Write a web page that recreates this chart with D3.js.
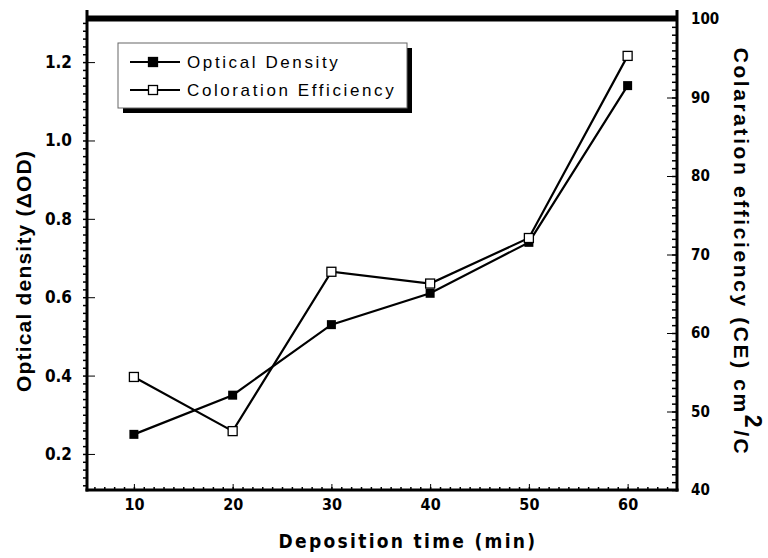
<!DOCTYPE html>
<html>
<head>
<meta charset="utf-8">
<script src="https://cdn.jsdelivr.net/npm/d3@7"></script>
<style>
  body { margin: 0; background: #fff; }
  .tick text { font-family: "DejaVu Sans Condensed", "DejaVu Sans", sans-serif; font-weight: bold; }
</style>
</head>
<body>
<div id="chart"></div>
<script>
// data
var depTime = [10, 20, 30, 40, 50, 60];
var opticalDensity = [0.25, 0.35, 0.53, 0.61, 0.74, 1.14];
var colorEff = [54.4, 47.5, 67.8, 66.3, 72.1, 95.3];
var xTicks = [10, 20, 30, 40, 50, 60];
var leftTicks = [0.2, 0.4, 0.6, 0.8, 1.0, 1.2];
var rightTicks = [40, 50, 60, 70, 80, 90, 100];
var legendNames = ["Optical Density", "Coloration Efficiency"];

var svgWidth = 768;
var svgHeight = 558;
var margin = { top: 19, right: 91, bottom: 68, left: 87 };
var width = svgWidth - margin.left - margin.right;
var height = svgHeight - margin.top - margin.bottom;

var svg = d3.select("#chart")
  .append("svg")
  .attr("width", svgWidth)
  .attr("height", svgHeight);

var chartGroup = svg.append("g")
  .attr("transform", `translate(${margin.left}, ${margin.top})`);

// scales
var xScale = d3.scaleLinear().domain([5.25, 65]).range([0, width]);
var yLeft = d3.scaleLinear().domain([0.108, 1.31]).range([height, 0]);
var yRight = d3.scaleLinear().domain([40, 100]).range([height, 0]);

// minor ticks
var xMinor = d3.range(6, 65, 1);
var leftMinor = d3.range(0.12, 1.31, 0.02);
var rightMinor = d3.range(40, 101, 1);

function noLabel(g) { g.selectAll("text").remove(); g.select(".domain").remove(); }

chartGroup.append("g")
  .attr("transform", `translate(0, ${height})`)
  .call(d3.axisBottom(xScale).tickValues(xMinor).tickSize(-3).tickFormat(""))
  .call(noLabel)
  .selectAll("line").attr("stroke-width", 1.5);

chartGroup.append("g")
  .call(d3.axisLeft(yLeft).tickValues(leftMinor).tickSize(4).tickFormat(""))
  .call(noLabel)
  .selectAll("line").attr("stroke-width", 1.5);

chartGroup.append("g")
  .attr("transform", `translate(${width}, 0)`)
  .call(d3.axisRight(yRight).tickValues(rightMinor).tickSize(-5).tickFormat(""))
  .call(noLabel)
  .selectAll("line").attr("stroke-width", 1.5);

// major axes with labels
var xAxis = chartGroup.append("g")
  .attr("transform", `translate(0, ${height})`)
  .call(d3.axisBottom(xScale).tickValues(xTicks).tickSize(-6).tickPadding(14));
xAxis.selectAll("text").attr("font-size", 16).attr("dy", "0.35em").attr("fill", "#000");

var leftAxis = chartGroup.append("g")
  .call(d3.axisLeft(yLeft).tickValues(leftTicks).tickSize(-8).tickPadding(15)
    .tickFormat(d3.format(".1f")));
leftAxis.selectAll("text").attr("font-size", 17).attr("fill", "#000");

var rightAxis = chartGroup.append("g")
  .attr("transform", `translate(${width}, 0)`)
  .call(d3.axisRight(yRight).tickValues(rightTicks).tickSize(-10).tickPadding(14));
rightAxis.selectAll("text").attr("font-size", 15).attr("fill", "#000");

chartGroup.selectAll(".domain").remove();

// frame lines
chartGroup.append("line").attr("x1", 0).attr("x2", 0).attr("y1", -9).attr("y2", height + 1.5)
  .attr("stroke", "#000").attr("stroke-width", 3);
chartGroup.append("line").attr("x1", width).attr("x2", width).attr("y1", -9).attr("y2", height + 1.5)
  .attr("stroke", "#000").attr("stroke-width", 3);
chartGroup.append("line").attr("x1", -1.5).attr("x2", width + 1.5).attr("y1", height).attr("y2", height)
  .attr("stroke", "#000").attr("stroke-width", 3);
chartGroup.append("line").attr("x1", 0).attr("x2", width).attr("y1", -0.5).attr("y2", -0.5)
  .attr("stroke", "#000").attr("stroke-width", 6);

// lines
var odLine = d3.line().x((d, i) => xScale(depTime[i])).y(d => yLeft(d));
var ceLine = d3.line().x((d, i) => xScale(depTime[i])).y(d => yRight(d));

chartGroup.append("path").datum(opticalDensity)
  .attr("d", odLine).attr("fill", "none").attr("stroke", "#000").attr("stroke-width", 2.2);
chartGroup.append("path").datum(colorEff)
  .attr("d", ceLine).attr("fill", "none").attr("stroke", "#000").attr("stroke-width", 2.2);

var ms = 9;
chartGroup.selectAll(".od").data(opticalDensity).enter().append("rect")
  .attr("x", (d, i) => xScale(depTime[i]) - ms / 2)
  .attr("y", d => yLeft(d) - ms / 2)
  .attr("width", ms).attr("height", ms).attr("fill", "#000");
chartGroup.selectAll(".ce").data(colorEff).enter().append("rect")
  .attr("x", (d, i) => xScale(depTime[i]) - ms / 2)
  .attr("y", d => yRight(d) - ms / 2)
  .attr("width", ms).attr("height", ms).attr("fill", "#fff")
  .attr("stroke", "#000").attr("stroke-width", 1.3);

// axis titles
svg.append("text")
  .attr("transform", "translate(31, 271) rotate(-90)")
  .attr("text-anchor", "middle")
  .attr("font-family", "Liberation Sans, Arial, sans-serif")
  .attr("font-weight", "bold").attr("font-size", 21)
  .attr("letter-spacing", 1.2)
  .text("Optical density (ΔOD)");

var rt = svg.append("text")
  .attr("transform", "translate(734, 252) rotate(90)")
  .attr("text-anchor", "middle")
  .attr("font-family", "Liberation Sans, Arial, sans-serif")
  .attr("font-weight", "bold").attr("font-size", 21)
  .attr("letter-spacing", 2.6);
rt.append("tspan").text("Colaration efficiency (CE) cm");
rt.append("tspan").attr("dy", -11).attr("font-size", 23).text("2");
rt.append("tspan").attr("dy", 11).text("/C");

svg.append("text")
  .attr("x", 408).attr("y", 548)
  .attr("text-anchor", "middle")
  .attr("font-family", "DejaVu Sans Condensed, sans-serif")
  .attr("font-weight", "bold").attr("font-size", 19)
  .attr("letter-spacing", 2.3)
  .text("Deposition time (min)");

// legend
var legend = svg.append("g");
legend.append("rect").attr("x", 123).attr("y", 48).attr("width", 289).attr("height", 65).attr("fill", "#000");
legend.append("rect").attr("x", 118).attr("y", 43).attr("width", 289).attr("height", 65)
  .attr("fill", "#fff").attr("stroke", "#666").attr("stroke-width", 1);

legendNames.forEach(function(name, i) {
  var y = 62 + i * 28;
  legend.append("line").attr("x1", 130).attr("x2", 180).attr("y1", y).attr("y2", y)
    .attr("stroke", "#000").attr("stroke-width", 2);
  legend.append("rect").attr("x", 153 - ms / 2).attr("y", y - ms / 2)
    .attr("width", ms).attr("height", ms)
    .attr("fill", i === 0 ? "#000" : "#fff").attr("stroke", "#000").attr("stroke-width", 1.3);
  legend.append("text").attr("x", 187).attr("y", y + 6)
    .attr("font-family", "Liberation Sans, Arial, sans-serif")
    .attr("font-size", 17).attr("letter-spacing", 2.6)
    .text(name);
});
</script>
</body>
</html>
